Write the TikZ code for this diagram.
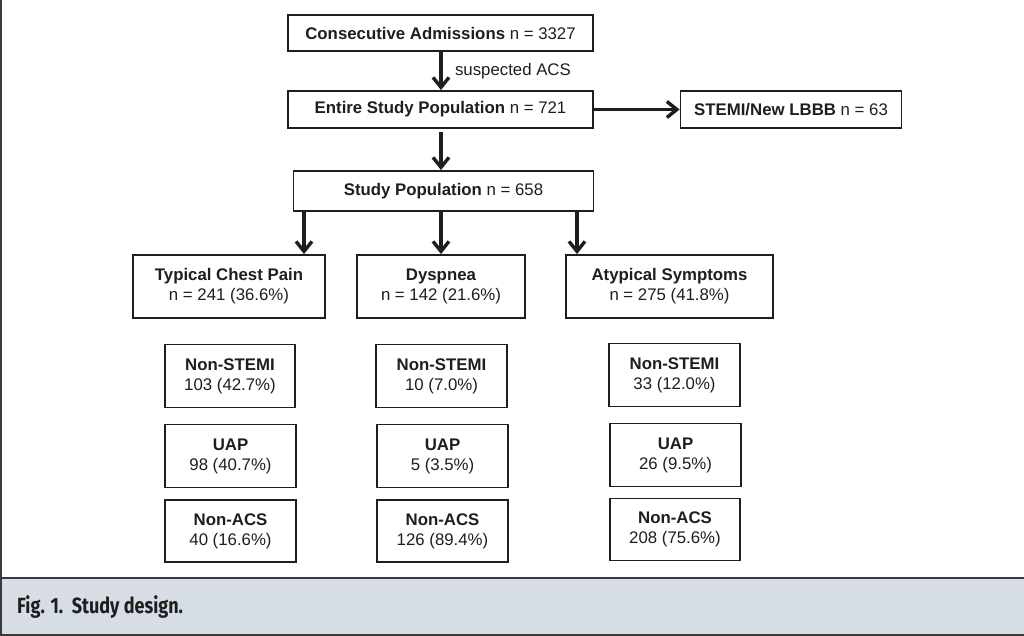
\documentclass[tikz,border=0pt]{standalone}
\usepackage{fontspec}
\setmainfont{Liberation Sans}
\newfontfamily\capfont{Fira Sans}
\usetikzlibrary{arrows.meta,calc}
\definecolor{band}{HTML}{D6DDE5}
\definecolor{ink}{HTML}{1E1E1E}
\definecolor{frame}{HTML}{3A3A3A}
\begin{document}
\begin{tikzpicture}[x=1pt,y=-1pt,
  box/.style={draw=ink,line width=1.8pt,fill=white,inner sep=0pt,align=center,
     font=\fontsize{16.8}{20}\selectfont,text=ink},
  arr/.style={draw=ink,line width=3.4pt,-{Straight Barb[length=10pt,width=16pt,line width=3.4pt]}},
]
\useasboundingbox (0,0) rectangle (1024,636);
% frame and caption band
\draw[frame,line width=1.5pt] (1,0) -- (1,578);
\fill[band] (0,578) rectangle (1024,635);
\draw[frame,line width=2pt] (0,578) -- (1024,578);
\draw[frame,line width=2pt] (0,635) -- (1024,635);
\draw[frame,line width=2pt] (1,578) -- (1,635);
\node[anchor=west,inner sep=0pt,text=ink] (cap) at (17,607.5)
  {\scalebox{0.82}[1]{\capfont\bfseries\fontsize{22}{26}\selectfont Fig. 1.\ \ Study design.}};

% top chain
\node[box,minimum width=305pt,minimum height=36pt] (A) at (440.5,33)
  {\textbf{Consecutive Admissions} n = 3327};
\node[box,minimum width=305pt,minimum height=37pt] (B) at (440.5,109.5)
  {\textbf{Entire Study Population} n = 721};
\node[box,minimum width=221pt,minimum height=37pt] (C) at (791,109.5)
  {\textbf{STEMI/New LBBB} n = 63};
\node[box,minimum width=300pt,minimum height=40pt] (D) at (443.5,191)
  {\textbf{Study Population} n = 658};

\draw[arr] (A.south -| 441,0) -- (B.north -| 441,0)
  node[midway,anchor=west,xshift=9pt,text=ink,font=\fontsize{16.8}{20}\selectfont] (lab) {suspected ACS};
\draw[arr] (B.east) -- (C.west);
\draw[arr,shorten <=3pt] (B.south -| 441,0) -- (D.north -| 441,0);

% symptom row
\node[box,minimum width=192pt,minimum height=63pt] (E1) at (229,286.5)
  {\textbf{Typical Chest Pain}\\n = 241 (36.6\%)};
\node[box,minimum width=168pt,minimum height=63pt] (E2) at (441,286.5)
  {\textbf{Dyspnea}\\n = 142 (21.6\%)};
\node[box,minimum width=207pt,minimum height=63pt] (E3) at (669.5,286.5)
  {\textbf{Atypical Symptoms}\\n = 275 (41.8\%)};

\coordinate (k1) at (304,0);
\coordinate (k2) at (441,0);
\coordinate (k3) at (577,0);
\draw[arr] (D.south -| k1) -- (E1.north -| k1);
\draw[arr] (D.south -| k2) -- (E2.north -| k2);
\draw[arr] (D.south -| k3) -- (E3.north -| k3);

% outcome boxes
\node[box,minimum width=130pt,minimum height=63pt] (F1) at (230,376) {\textbf{Non-STEMI}\\103 (42.7\%)};
\node[box,minimum width=131pt,minimum height=63pt] (G1) at (230.5,456) {\textbf{UAP}\\98 (40.7\%)};
\node[box,minimum width=131pt,minimum height=62pt] (H1) at (230.5,531) {\textbf{Non-ACS}\\40 (16.6\%)};

\node[box,minimum width=131pt,minimum height=63pt] (F2) at (441.5,376) {\textbf{Non-STEMI}\\10 (7.0\%)};
\node[box,minimum width=131pt,minimum height=63pt] (G2) at (442.5,456) {\textbf{UAP}\\5 (3.5\%)};
\node[box,minimum width=131pt,minimum height=62pt] (H2) at (442.5,531) {\textbf{Non-ACS}\\126 (89.4\%)};

\node[box,minimum width=131pt,minimum height=63pt] (F3) at (674.5,375) {\textbf{Non-STEMI}\\33 (12.0\%)};
\node[box,minimum width=131pt,minimum height=63pt] (G3) at (675.5,455) {\textbf{UAP}\\26 (9.5\%)};
\node[box,minimum width=130pt,minimum height=62pt] (H3) at (675,529.5) {\textbf{Non-ACS}\\208 (75.6\%)};
\end{tikzpicture}
\end{document}
